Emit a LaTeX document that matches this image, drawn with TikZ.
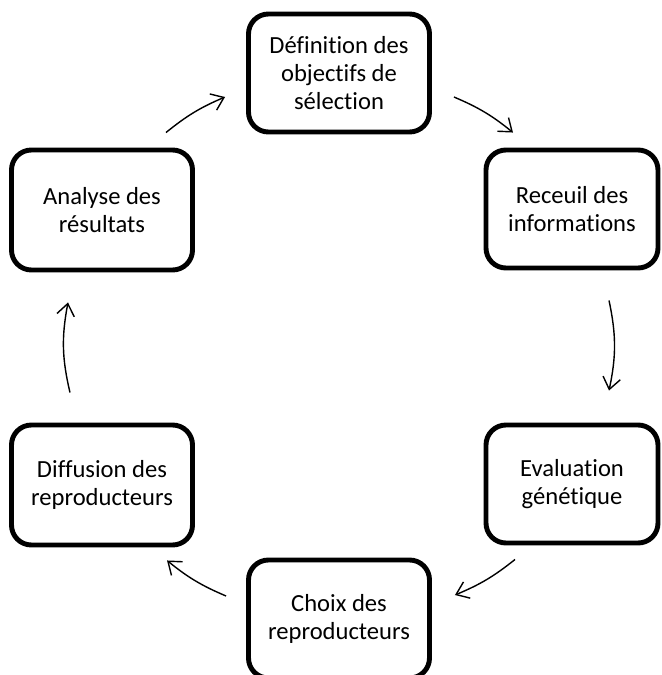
\documentclass[tikz,border=0pt]{standalone}
\usepackage{fontspec}
\setmainfont{Carlito}[Ligatures=NoCommon]
\usepackage{tikz}
\usetikzlibrary{positioning,calc,arrows.meta}

\tikzset{
    stage/.style={draw, line width=4.2pt, rounded corners=17pt, align=center,
        minimum width=181*0.03cm, minimum height=118*0.03cm, inner sep=0pt,
        font=\fontsize{21}{24}\selectfont},
    cycle arrow/.style={line width=1.2pt, -{Straight Barb[length=10pt,width=15pt,line width=1.2pt]}}
}

\begin{document}
\begin{tikzpicture}[x=0.03cm, y=-0.03cm]
    % Canvas
    \clip (0,0) rectangle (661,675);

    % Stages
    \node[stage] (def) at (339,73) {Définition des\\objectifs de\\sélection};
    \node[stage, minimum width=172*0.03cm] (rec) at (572,209) {Receuil des\\informations};
    \node[stage, minimum width=172*0.03cm] (eva) at (572,484) {Evaluation\\génétique};
    \node[stage] (cho) at (339,619) {Choix des\\reproducteurs};
    \node[stage, minimum height=120*0.03cm] (dif) at (102,485) {Diffusion des\\reproducteurs};
    \node[stage, minimum height=120*0.03cm] (ana) at (102,210) {Analyse des\\résultats};

    % Cycle
    \draw[cycle arrow] ([shift={(22,24)}]def.east) to[bend left=8] ([shift={(-59,-15)}]rec.north);
    \draw[cycle arrow] ([shift={(37,30)}]rec.south) to[bend left=12] ([shift={(37,-32)}]eva.north);
    \draw[cycle arrow] ([shift={(-57,14)}]eva.south) to[bend left=8] ([shift={(23,-24)}]cho.east);
    \draw[cycle arrow] ([shift={(-20,-23)}]cho.west) to[bend left=8] ([shift={(65,13)}]dif.south);
    \draw[cycle arrow] ([shift={(-32,-30)}]dif.north) to[bend left=12] ([shift={(-34,30)}]ana.south);
    \draw[cycle arrow] ([shift={(64,-15)}]ana.north) to[bend left=8] ([shift={(-21,24)}]def.west);
\end{tikzpicture}
\end{document}
